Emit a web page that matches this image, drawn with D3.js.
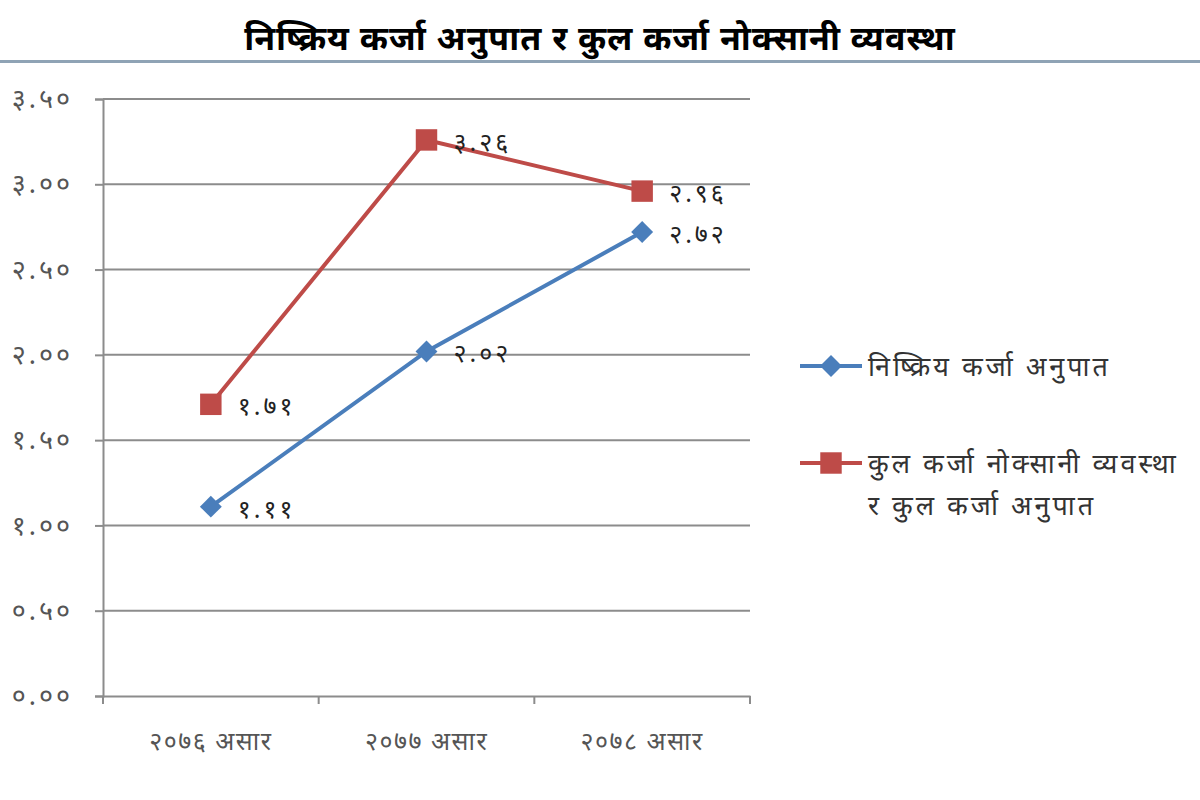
<!DOCTYPE html>
<html><head><meta charset="utf-8">
<script src="https://cdn.jsdelivr.net/npm/d3@7"></script>
<style>
html,body{margin:0;padding:0;background:#fff;}
text{font-family:"Noto Sans","Noto Sans Devanagari",sans-serif;}
</style></head>
<body><svg id="c" width="1200" height="800"></svg>
<script>
const title = "निष्क्रिय कर्जा अनुपात र कुल कर्जा नोक्सानी व्यवस्था";
const categories = ["२०७६ असार", "२०७७ असार", "२०७८ असार"];
const seriesNames = ["निष्क्रिय कर्जा अनुपात", "कुल कर्जा नोक्सानी व्यवस्था|र कुल कर्जा अनुपात"];
const npl = [1.11, 2.02, 2.72];
const llp = [1.71, 3.26, 2.96];
const yTicks = [0, 0.5, 1, 1.5, 2, 2.5, 3, 3.5];

const dev = "०१२३४५६७८९";
const toDev = s => s.replace(/[0-9]/g, d => dev[+d]);

const svg = d3.select("#c");
const colors = ["#4A7EBB", "#BE4B48"];

// Title
svg.append("text").attr("x", 600).attr("y", 50).attr("text-anchor", "middle")
  .attr("font-size", 34).attr("font-weight", "bold").attr("letter-spacing", 1).attr("fill", "#000").text(title);
svg.append("rect").attr("x", 0).attr("y", 60).attr("width", 1200).attr("height", 3).attr("fill", "#8FA3B5");

const x = d3.scaleBand().domain(categories).range([103, 750]);
const y = d3.scaleLinear().domain([0, 3.5]).range([696, 99]);

// gridlines
svg.append("g").selectAll("line").data(yTicks.filter(t => t > 0)).join("line")
  .attr("x1", 103).attr("x2", 750).attr("y1", d => y(d)).attr("y2", d => y(d))
  .attr("stroke", "#8c8c8c").attr("stroke-width", 2);

// y axis
const ya = svg.append("g").attr("transform", "translate(103,0)")
  .call(d3.axisLeft(y).tickValues(yTicks).tickSize(8).tickPadding(22).tickFormat(d => toDev(d3.format(".2f")(d))));
ya.select(".domain").attr("stroke", "#8c8c8c").attr("stroke-width", 2);
ya.selectAll(".tick line").attr("stroke", "#8c8c8c").attr("stroke-width", 2);
ya.selectAll(".tick text").attr("font-size", 27).attr("letter-spacing", 3).attr("fill", "#555");

// x axis
const xa = svg.append("g").attr("transform", "translate(0,696)")
  .call(d3.axisBottom(x).tickSize(0).tickPadding(36));
xa.select(".domain").attr("stroke", "#8c8c8c").attr("stroke-width", 2);
xa.selectAll(".tick text").attr("font-size", 25).attr("letter-spacing", 1.5).attr("fill", "#555");
const edges = [0, 1, 2, 3].map(i => x.range()[0] + i * x.step());
xa.append("g").selectAll("line").data(edges).join("line")
  .attr("x1", d => d).attr("x2", d => d).attr("y1", 0).attr("y2", 8)
  .attr("stroke", "#8c8c8c").attr("stroke-width", 2);

const cx = d => x(d) + x.bandwidth() / 2;
const series = [npl, llp];
const line = d3.line().x((d, i) => cx(categories[i])).y(d => y(d));

series.forEach((vals, s) => {
  const g = svg.append("g");
  g.append("path").datum(vals).attr("d", line).attr("fill", "none")
    .attr("stroke", colors[s]).attr("stroke-width", 4);
  g.selectAll("path.m").data(vals).join("path").attr("class", "m")
    .attr("d", d3.symbol().type(d3.symbolSquare).size(s === 0 ? 240 : 460)())
    .attr("transform", (d, i) => `translate(${cx(categories[i])},${y(d)})` + (s === 0 ? " rotate(45)" : ""))
    .attr("fill", colors[s]);
  g.selectAll("text").data(vals).join("text")
    .attr("x", (d, i) => cx(categories[i]) + 27).attr("y", (d) => y(d) + 11)
    .attr("font-size", 25).attr("letter-spacing", 3).attr("fill", "#222").text(d => toDev(d3.format(".2f")(d)));
});

// legend
const lg = svg.append("g");
const legY = [366, 463];
seriesNames.forEach((n, s) => {
  lg.append("line").attr("x1", 800).attr("x2", 862).attr("y1", legY[s]).attr("y2", legY[s])
    .attr("stroke", colors[s]).attr("stroke-width", 4);
  lg.append("path").attr("d", d3.symbol().type(d3.symbolSquare).size(s === 0 ? 240 : 460)())
    .attr("transform", `translate(831,${legY[s]})` + (s === 0 ? " rotate(45)" : ""))
    .attr("fill", colors[s]);
  n.split("|").forEach((t, k) => {
    lg.append("text").attr("x", 868).attr("y", legY[s] + 10 + k * 42)
      .attr("font-size", 27).attr("letter-spacing", 3).attr("fill", "#333").text(t);
  });
});
</script></body></html>
